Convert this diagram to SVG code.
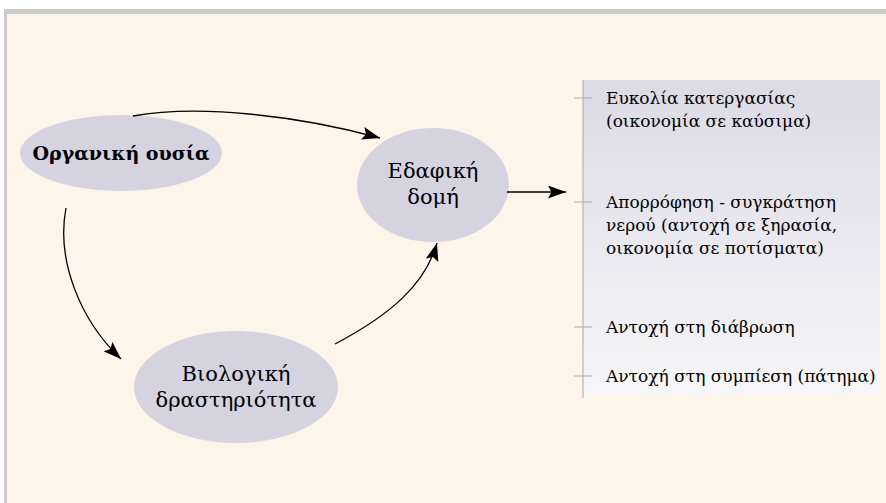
<svg xmlns="http://www.w3.org/2000/svg" width="886" height="503" viewBox="0 0 886 503">
  <defs>
    <linearGradient id="panelFill" x1="0" y1="0" x2="0" y2="1">
      <stop offset="0" stop-color="#DCDBE5"/>
      <stop offset="1" stop-color="#F6F6F8"/>
    </linearGradient>
    <marker id="arrow" viewBox="0 0 18 13" refX="18" refY="6.5" markerWidth="18" markerHeight="13" markerUnits="userSpaceOnUse" orient="auto">
      <path d="M0,0 L18,6.5 L0,13 L3.5,6.5 Z" fill="#000"/>
    </marker>
    <style>
      .node { fill: #D5D3E0; }
      .label { font-family: "DejaVu Serif", "Liberation Serif", serif; font-size: 21px; fill: #000; text-anchor: middle; }
      .title { font-size: 19px; font-weight: bold; }
      .item { font-family: "DejaVu Serif", "Liberation Serif", serif; font-size: 17px; fill: #000; }
      .edge { fill: none; stroke: #000; stroke-width: 1.3; marker-end: url(#arrow); }
      .tick { stroke: #A8A8A8; stroke-width: 1; }
    </style>
  </defs>

  <!-- page frame -->
  <rect x="0" y="0" width="886" height="503" fill="#FFFFFF"/>
  <rect x="4" y="9" width="882" height="494" fill="#CCCCCC"/>
  <rect x="7" y="14" width="879" height="489" fill="#FEF5EA"/>

  <!-- nodes -->
  <g id="organic-matter">
    <ellipse class="node" cx="121" cy="153" rx="101" ry="38"/>
    <text class="label title" x="121" y="160">Οργανική ουσία</text>
  </g>

  <g id="soil-structure">
    <ellipse class="node" cx="433" cy="185" rx="76" ry="57"/>
    <text class="label" x="433" y="178">Εδαφική</text>
    <text class="label" x="433" y="204">δομή</text>
  </g>

  <g id="biological-activity">
    <ellipse class="node" cx="236" cy="387" rx="102" ry="56"/>
    <text class="label" x="236" y="381">Βιολογική</text>
    <text class="label" x="236" y="407">δραστηριότητα</text>
  </g>

  <g id="benefits">
    <rect x="583" y="80" width="297" height="315" fill="url(#panelFill)"/>
    <line class="tick" x1="583" y1="80" x2="583" y2="398"/>
    <line class="tick" x1="574" y1="98" x2="592" y2="98"/>
    <line class="tick" x1="574" y1="202" x2="592" y2="202"/>
    <line class="tick" x1="574" y1="327" x2="592" y2="327"/>
    <line class="tick" x1="574" y1="376" x2="592" y2="376"/>
    <text class="item" x="606" y="104">Ευκολία κατεργασίας</text>
    <text class="item" x="606" y="127">(οικονομία σε καύσιμα)</text>
    <text class="item" x="606" y="208">Απορρόφηση - συγκράτηση</text>
    <text class="item" x="606" y="231">νερού (αντοχή σε ξηρασία,</text>
    <text class="item" x="606" y="254">οικονομία σε ποτίσματα)</text>
    <text class="item" x="606" y="333">Αντοχή στη διάβρωση</text>
    <text class="item" x="606" y="382">Αντοχή στη συμπίεση (πάτημα)</text>
  </g>

  <!-- connectors -->
  <g id="connectors">
    <path class="edge" d="M133,116 C200,104 300,116 380,138"/>
    <path class="edge" d="M507,192 L566,192"/>
    <path class="edge" d="M66,208 C56,260 80,320 121,359"/>
    <path class="edge" d="M335,344 C390,315 425,285 437,243"/>
  </g>
</svg>
